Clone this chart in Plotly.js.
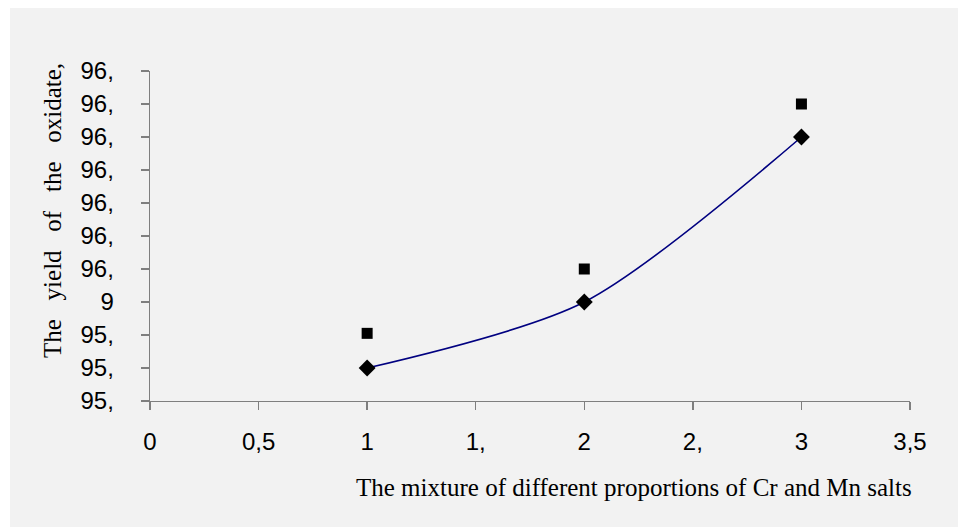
<!DOCTYPE html>
<html>
<head>
<meta charset="utf-8">
<script src="https://cdn.plot.ly/plotly-3.0.1.min.js"></script>
<style>html,body{margin:0;padding:0;background:#fff;}#chart{width:958px;height:527px;}</style>
</head>
<body>
<div id="chart"></div>
<script>
var proportions = [1, 2, 3];
var yieldSeriesA = [95.8, 96.0, 96.5];   // diamonds with smoothed line
var yieldSeriesB = [95.905, 96.1, 96.6]; // squares
var xTickVals = [0, 0.5, 1, 1.5, 2, 2.5, 3, 3.5];
var xTickText = ["0", "0,5", "1", "1,", "2", "2,", "3", "3,5"];
var yTickVals = [95.7, 95.8, 95.9, 96.0, 96.1, 96.2, 96.3, 96.4, 96.5, 96.6, 96.7];
var yTickText = ["95,", "95,", "95,", "9", "96,", "96,", "96,", "96,", "96,", "96,", "96,"];
var xTitle = "The mixture of different proportions of Cr and Mn salts";
var yTitle = "The\u00a0\u00a0 yield\u00a0\u00a0 of\u00a0\u00a0 the\u00a0\u00a0 oxidate,";

var traces = [
  {
    x: proportions, y: yieldSeriesB, type: "scatter", mode: "markers",
    marker: {symbol: "square", size: 11, color: "#000000"},
    cliponaxis: false, showlegend: false
  },
  {
    x: proportions, y: yieldSeriesA, type: "scatter", mode: "lines+markers",
    line: {shape: "spline", smoothing: 0.8, color: "#000080", width: 1.6},
    marker: {symbol: "diamond", size: 13, color: "#000000"},
    cliponaxis: false, showlegend: false
  }
];

var layout = {
  width: 958, height: 527,
  paper_bgcolor: "#ffffff",
  plot_bgcolor: "rgba(0,0,0,0)",
  margin: {l: 150, r: 48, t: 71, b: 126, pad: 0},
  font: {family: "Liberation Sans, Arial, sans-serif", size: 24, color: "#000"},
  shapes: [{
    type: "rect", xref: "paper", yref: "paper", layer: "below",
    x0: -140/760, x1: 1 + 48/760, y0: -126/330, y1: 1 + 63/330,
    fillcolor: "#f2f2f2", line: {width: 0}
  }],
  xaxis: {
    range: [0, 3.5], tickvals: xTickVals, ticktext: xTickText,
    showgrid: false, zeroline: false, showline: true, linecolor: "#7f7f7f", linewidth: 1.3,
    ticks: "outside", ticklen: 8, tickcolor: "#7f7f7f", tickwidth: 1.3,
    ticklabelstandoff: 11,
    tickfont: {family: "Liberation Sans, Arial, sans-serif", size: 24}
  },
  yaxis: {
    range: [95.7, 96.7], tickvals: yTickVals, ticktext: yTickText,
    showgrid: false, zeroline: false, showline: true, linecolor: "#7f7f7f", linewidth: 1.3,
    ticks: "outside", ticklen: 8, tickcolor: "#7f7f7f", tickwidth: 1.3,
    ticklabelstandoff: 22,
    tickfont: {family: "Liberation Sans, Arial, sans-serif", size: 24}
  },
  annotations: [
    {
      text: xTitle, xref: "paper", yref: "paper",
      x: (634 - 150) / 760, y: -(487 - 401) / 330, xanchor: "center", yanchor: "middle",
      showarrow: false, font: {family: "Liberation Serif, Times New Roman, serif", size: 25, color: "#000"}
    },
    {
      text: yTitle, xref: "paper", yref: "paper", textangle: -90,
      x: -(150 - 52) / 760, y: (401 - 210) / 330, xanchor: "center", yanchor: "middle",
      showarrow: false, font: {family: "Liberation Serif, Times New Roman, serif", size: 25, color: "#000"}
    }
  ]
};

Plotly.newPlot("chart", traces, layout, {staticPlot: true, displayModeBar: false});
</script>
</body>
</html>
